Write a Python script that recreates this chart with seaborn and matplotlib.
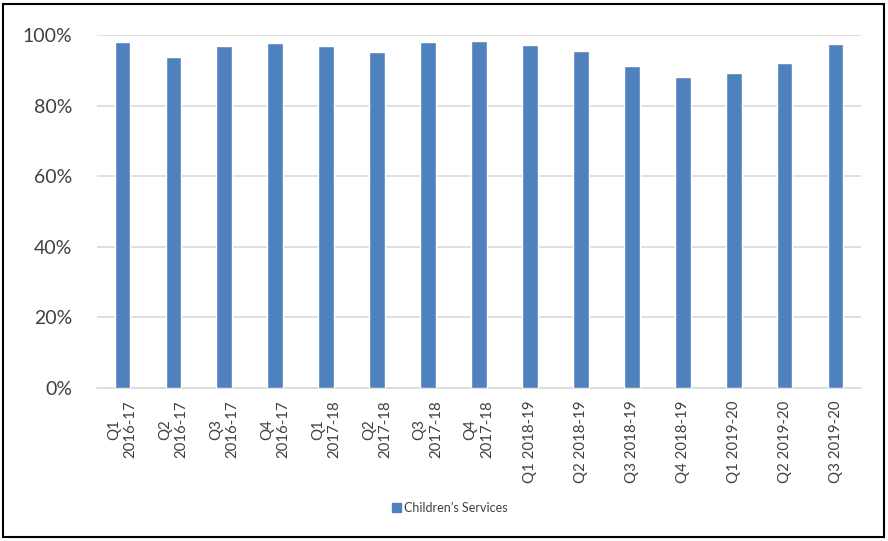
import matplotlib
matplotlib.use('Agg')
import matplotlib.pyplot as plt
import matplotlib.patches as mpatches
import numpy as np
import pandas as pd
import seaborn as sns

quarters = ['Q1\n2016-17', 'Q2\n2016-17', 'Q3\n2016-17', 'Q4\n2016-17',
            'Q1\n2017-18', 'Q2\n2017-18', 'Q3\n2017-18', 'Q4\n2017-18',
            'Q1 2018-19', 'Q2 2018-19', 'Q3 2018-19', 'Q4 2018-19',
            'Q1 2019-20', 'Q2 2019-20', 'Q3 2019-20']
childrens_services = [0.980, 0.939, 0.969, 0.976, 0.970, 0.953, 0.981, 0.984,
                      0.973, 0.956, 0.912, 0.882, 0.892, 0.922, 0.975]
series_name = 'Children\u2019s Services'
bar_color = '#4f81bd'

sns.set_style("white")
plt.rcParams['font.family'] = ['Lato', 'DejaVu Sans']

df = pd.DataFrame({'quarter': quarters, 'value': childrens_services})

fig = plt.figure(figsize=(8.88, 5.41), dpi=100)
ax = fig.add_axes([97 / 888, 1 - 388 / 541, 764 / 888, 353 / 541])

sns.barplot(data=df, x='quarter', y='value', color=bar_color, width=0.31,
            saturation=1, ax=ax, zorder=3)

ax.set_ylim(0, 1)
ax.set_xlim(-0.5, len(quarters) - 0.5)
ax.set_yticks(np.arange(0, 1.01, 0.2))
ax.set_yticklabels([f'{int(round(v * 100))}%' for v in np.arange(0, 1.01, 0.2)],
                   fontsize=14, color='#404040')
ax.yaxis.grid(True, color='#d9d9d9', linewidth=1.2, zorder=0)
ax.set_axisbelow(True)
ax.tick_params(axis='y', length=0, pad=18)
ax.tick_params(axis='x', length=0, pad=9)
ax.set_xticks(range(len(quarters)))
ax.set_xticklabels(quarters, rotation=90, fontsize=10.8, color='#404040',
                   ha='center', va='top', multialignment='center',
                   linespacing=1.25)
ax.set_xlabel('')
ax.set_ylabel('')
for side in ['top', 'right', 'left']:
    ax.spines[side].set_visible(False)
ax.spines['bottom'].set_color('#d9d9d9')
ax.spines['bottom'].set_linewidth(1.2)

handle = mpatches.Patch(color=bar_color, label=series_name)
fig.legend(handles=[handle], loc='center', bbox_to_anchor=(450 / 888, 1 - 508 / 541),
           frameon=False, fontsize=9, handlelength=0.7, handleheight=0.7,
           handletextpad=0.3, labelcolor='#404040')

border = mpatches.Rectangle((3 / 888, 4 / 541), 881 / 888, 533 / 541,
                            transform=fig.transFigure, fill=False,
                            edgecolor='black', linewidth=1.5)
fig.patches.append(border)

fig.savefig('out.png', dpi=100)
